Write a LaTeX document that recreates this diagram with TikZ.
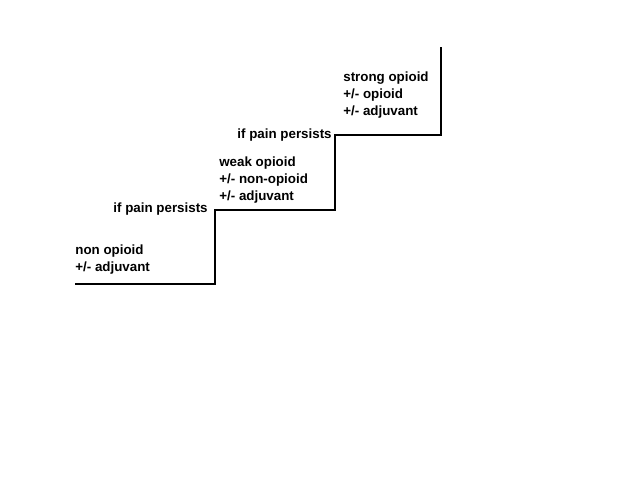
\documentclass[tikz,border=0pt]{standalone}
\usepackage{fontspec}
\setmainfont{Liberation Sans}

\tikzset{
    stair/.style={line width=1.15pt, line join=miter},
    lbl/.style={font=\bfseries\fontsize{7.6}{9}\selectfont, inner sep=0pt, anchor=base west},
}

\begin{document}
\begin{tikzpicture}[x=0.02cm, y=-0.02cm]
    \useasboundingbox (0,0) rectangle (640,480);
    % corners of the staircase
    \coordinate (start) at (75,284);
    \coordinate (step1) at (215,284);
    \coordinate (step1top) at (215,210);
    \coordinate (step2) at (335,210);
    \coordinate (step2top) at (335,135);
    \coordinate (step3) at (441,135);
    \coordinate (top) at (441,47);
    \draw[stair] (start) -- (step1) -- (step1top) -- (step2) -- (step2top) -- (step3) -- (top);
    % first step
    \node[lbl] (nonopioid) at (75,254) {non opioid};
    \node[lbl] (adjuvant1) at (75,271) {+/- adjuvant};
    \node[lbl, anchor=base east] (persists1) at (208,212) {if pain persists};
    % second step
    \node[lbl] (weak) at (219,166) {weak opioid};
    \node[lbl] (nonop) at (219,183) {+/- non-opioid};
    \node[lbl] (adjuvant2) at (219,200) {+/- adjuvant};
    \node[lbl, anchor=base east] (persists2) at (332,138) {if pain persists};
    % third step
    \node[lbl] (strong) at (343,81) {strong opioid};
    \node[lbl] (opioid) at (343,98) {+/- opioid};
    \node[lbl] (adjuvant3) at (343,115) {+/- adjuvant};
\end{tikzpicture}
\end{document}
